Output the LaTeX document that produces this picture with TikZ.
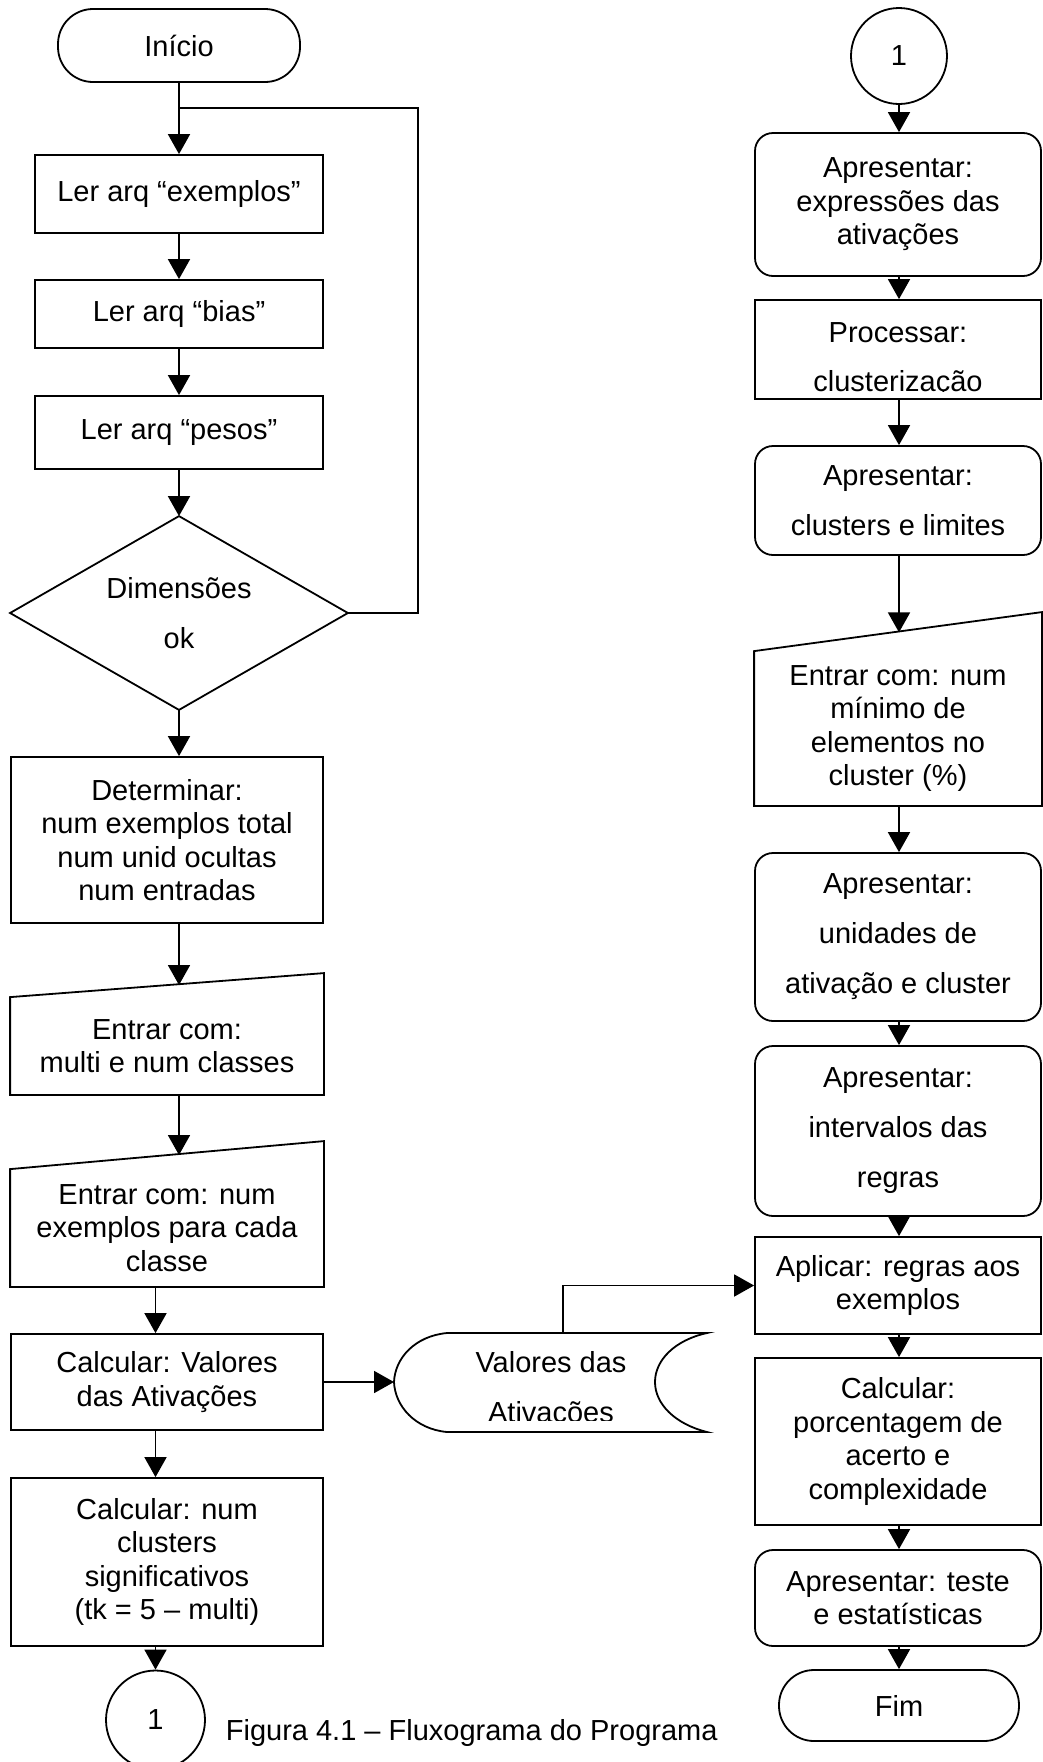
\documentclass[tikz,border=0pt]{standalone}
\usepackage{fontspec}
\setmainfont{Liberation Sans}
\usetikzlibrary{arrows.meta}
\begin{document}
\begin{tikzpicture}[x=1pt,y=-1pt,line width=1.8pt,
  txt/.style={font=\fontsize{29}{33.5}\selectfont,align=center,inner sep=0pt},
  dbl/.style={font=\fontsize{29}{50}\selectfont},
  sz/.style 2 args={minimum width=#1pt,minimum height=#2pt},
  box/.style={txt,draw,rectangle},
  rbox/.style={box,rounded corners=18pt},
  term/.style={box,rounded corners=35pt},
  plain/.style={txt,rectangle},
  conn/.style={txt,draw,circle,minimum size=#1pt},
  arr/.style={-{Triangle[length=20pt,width=22pt]}}]

% page
\fill[white] (0,0) rectangle (1043,1762);
\useasboundingbox (0,0) rectangle (1043,1762);

% column axes and helper points
\coordinate (axA) at (179,0);
\coordinate (axB) at (155.5,0);
\coordinate (axR) at (899,0);
\coordinate (jn) at (179,108);
\coordinate (loopc) at (418,108);
\coordinate (ent1in) at (179,985);
\coordinate (ent2in) at (179,1155);
\coordinate (ent3in) at (899,632.4);
\coordinate (dL) at (394,1382);
\coordinate (dT) at (563,1333);

% ---------- left column ----------
\node[term,sz={242}{73}] (inicio) at (179,45.5) {Início};
\node[box,sz={288}{78}] (ler1) at (179,194) {Ler arq “exemplos”};
\node[box,sz={288}{68}] (ler2) at (179,314) {Ler arq “bias”};
\node[box,sz={288}{73}] (ler3) at (179,432.5) {Ler arq “pesos”};

\node[plain,dbl,sz={336}{192}] (dim) at (179,613) {Dimensões\\ok};
\draw (dim.north) -- (dim.east) -- (dim.south) -- (dim.west) -- cycle;

\node[box,sz={312}{166}] (det) at (167,840)
  {Determinar:\\num exemplos total\\num unid ocultas\\num entradas};

\node[plain,sz={312}{96}] (ent1) at (167,1046) {Entrar com:\\multi e num classes};
\draw (ent1.south west) -- (ent1.south east) -- ([yshift=24pt]ent1.north east)
  -- (ent1.north west) -- cycle;

\node[plain,sz={312}{116}] (ent2) at (167,1228) {Entrar com: num\\exemplos para cada\\classe};
\draw (ent2.south west) -- (ent2.south east) -- ([yshift=28pt]ent2.north east)
  -- (ent2.north west) -- cycle;

\node[box,sz={312}{96}] (calcv) at (167,1382) {Calcular: Valores\\das Ativações};
\node[box,sz={312}{168}] (calcn) at (167,1562)
  {Calcular: num\\clusters\\significativos\\(tk = 5 – multi)};
\node[conn=99] (con1) at (155.5,1720) {1};

% stored data
\draw (394,1382) .. controls (395,1358) and (415,1336) .. (447,1333) -- (707,1333)
  .. controls (675,1340) and (655,1360) .. (655,1382)
  .. controls (655,1404) and (675,1424) .. (707,1432) -- (447,1432)
  .. controls (415,1429) and (395,1406) .. (394,1382);
\begin{scope}
  \clip (396,1330) rectangle (712,1420);
  \node[txt,anchor=base] (dat1) at (551,1372) {Valores das};
  \node[txt,anchor=base] (dat2) at (551,1422) {Ativações};
\end{scope}

% ---------- right column ----------
\node[conn=96] (con2) at (899,56) {1};
\node[rbox,sz={286}{143}] (apr1) at (898,204.5) {Apresentar:\\expressões das\\ativações};

\node[box,sz={286}{99}] (proc) at (898,349.5) {};
\begin{scope}
  \clip (756,301) rectangle (1040,391.5);
  \node[txt,anchor=base] (proct1) at (898,342) {Processar:};
  \node[txt,anchor=base] (proct2) at (898,391) {clusterização};
\end{scope}

\node[rbox,dbl,sz={286}{109}] (apr2) at (898,500.5) {Apresentar:\\clusters e limites};

\node[plain,sz={286}{153}] (ent3) at (898,728.5)
  {Entrar com: num\\mínimo de\\elementos no\\cluster (\%)};
\draw (ent3.south west) -- (ent3.south east) -- ([yshift=39pt]ent3.north east)
  -- (ent3.north west) -- cycle;

\node[rbox,dbl,sz={286}{168}] (apr3) at (898,937) {Apresentar:\\unidades de\\ativação e cluster};
\node[rbox,dbl,sz={286}{170}] (apr4) at (898,1131) {Apresentar:\\intervalos das\\regras};
\node[box,sz={286}{97}] (apl) at (898,1285.5) {Aplicar: regras aos\\exemplos};
\node[box,sz={286}{167}] (calcp) at (898,1441.5)
  {Calcular:\\porcentagem de\\acerto e\\complexidade};
\node[rbox,sz={286}{96}] (apr5) at (898,1598) {Apresentar: teste\\e estatísticas};
\node[term,sz={240}{71}] (fim) at (899,1705.5) {Fim};

% caption
\node[txt,anchor=base west] (cap) at (225,1740) {Figura 4.1 – Fluxograma do Programa};

% ---------- connectors ----------
\draw[arr] (inicio.south) -- (ler1.north);
\draw[arr] (ler1.south) -- (ler2.north);
\draw[arr] (ler2.south) -- (ler3.north);
\draw[arr] (ler3.south) -- (dim.north);
\draw[arr] (dim.south) -- (dim.south |- det.north);
\draw[arr] (axA |- det.south) -- (ent1in);
\draw[arr] (axA |- ent1.south) -- (ent2in);
\draw[arr] (axB |- ent2.south) -- (axB |- calcv.north);
\draw[arr] (axB |- calcv.south) -- (axB |- calcn.north);
\draw[arr] (axB |- calcn.south) -- (con1.north);
\draw (dim.east) -| (loopc) -- (jn);
\draw[arr] (calcv.east) -- (dL);
\draw[arr] (dT) |- (apl.west);

\draw[arr] (con2.south) -- (axR |- apr1.north);
\draw[arr] (axR |- apr1.south) -- (axR |- proc.north);
\draw[arr] (axR |- proc.south) -- (axR |- apr2.north);
\draw[arr] (axR |- apr2.south) -- (ent3in);
\draw[arr] (axR |- ent3.south) -- (axR |- apr3.north);
\draw[arr] (axR |- apr3.south) -- (axR |- apr4.north);
\draw[arr] (axR |- apr4.south) -- (axR |- apl.north);
\draw[arr] (axR |- apl.south) -- (axR |- calcp.north);
\draw[arr] (axR |- calcp.south) -- (axR |- apr5.north);
\draw[arr] (axR |- apr5.south) -- (fim.north);
\end{tikzpicture}
\end{document}
